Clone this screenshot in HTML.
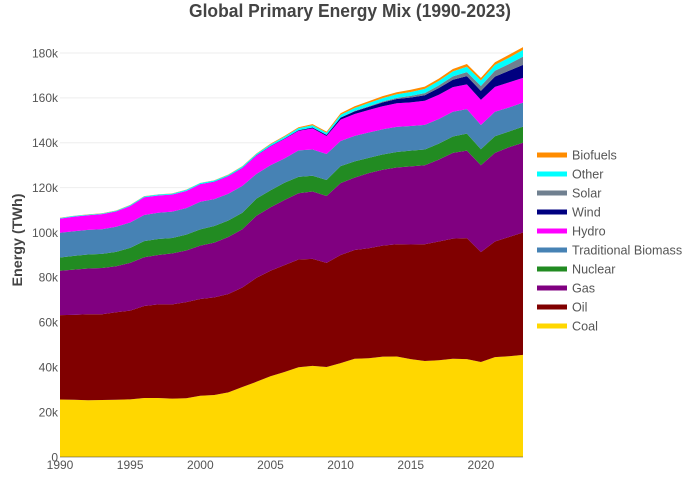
<!DOCTYPE html>
<html>
<head>
<meta charset="utf-8">
<style>
html,body{margin:0;padding:0;background:#fff;}
svg{display:block;font-family:"Liberation Sans",sans-serif;}
</style>
</head>
<body>
<svg id="chart" width="700" height="500" viewBox="0 0 700 500" xmlns="http://www.w3.org/2000/svg">
  <rect width="700" height="500" fill="#fff"/>
  <text x="350" y="17" text-anchor="middle" font-size="18" font-weight="bold" fill="#444" textLength="322" lengthAdjust="spacingAndGlyphs">Global Primary Energy Mix (1990-2023)</text>
  <text transform="translate(22,240) rotate(-90)" text-anchor="middle" font-size="14" font-weight="bold" fill="#444" textLength="93" lengthAdjust="spacingAndGlyphs">Energy (TWh)</text>
  <g id="grid"></g>
  <g id="areas"></g>
  <g id="yticks"></g>
  <g id="xticks"></g>
  <g id="legend"></g>
</svg>
<script>
const years = [1990,1991,1992,1993,1994,1995,1996,1997,1998,1999,2000,2001,2002,2003,2004,2005,2006,2007,2008,2009,2010,2011,2012,2013,2014,2015,2016,2017,2018,2019,2020,2021,2022,2023];
const coal = [25.6,25.5,25.3,25.4,25.5,25.7,26.3,26.3,26.0,26.2,27.3,27.6,28.8,31.2,33.5,36.0,37.9,40.0,40.6,40.1,41.8,43.8,44.0,44.7,44.8,43.6,42.8,43.1,43.8,43.6,42.3,44.5,44.9,45.5];
const oil = [37.6,37.8,38.3,38.2,39.0,39.5,41.0,41.7,42.0,42.8,43.1,43.5,43.8,44.3,46.3,47.0,47.6,48.0,47.7,46.4,48.2,48.4,49.0,49.5,50.0,51.1,52.0,52.9,53.5,53.9,49.0,51.5,53.1,54.5];
const gas = [19.8,20.2,20.4,20.6,20.5,21.3,21.7,22.0,22.7,23.0,23.8,24.4,25.4,26.0,27.7,28.2,29.0,29.5,30.0,29.8,32.0,32.3,33.5,33.8,34.2,34.8,35.2,36.5,38.2,39.0,38.7,39.5,40.0,40.0];
const nuclear = [5.9,6.1,6.2,6.3,6.4,6.7,7.2,7.1,6.9,7.1,7.2,7.4,7.4,7.3,7.6,7.6,7.7,7.3,7.0,7.1,7.6,7.2,6.8,6.8,6.9,7.0,7.0,7.1,7.3,7.6,7.1,7.4,7.0,7.2];
const biomass = [11.0,11.0,11.0,11.0,11.2,11.3,11.6,11.7,11.7,11.8,12.3,12.0,11.9,12.0,11.0,11.2,10.8,11.8,11.7,11.6,11.2,11.4,11.3,11.2,11.2,11.0,11.0,11.0,11.0,10.9,10.8,10.9,10.7,10.7];
const hydro = [6.3,6.5,6.5,6.7,6.8,7.3,7.9,7.7,7.6,7.6,7.8,7.7,7.8,7.9,8.2,8.4,8.7,8.7,9.4,8.0,9.5,9.7,10.0,10.3,10.5,10.5,10.7,10.8,11.0,11.0,11.2,11.1,11.2,11.0];
const wind = [0.01,0.01,0.01,0.01,0.02,0.02,0.02,0.03,0.03,0.04,0.06,0.07,0.09,0.11,0.14,0.18,0.23,0.3,0.4,0.5,0.9,1.2,1.4,1.7,1.9,2.2,2.5,3.0,3.3,3.7,4.0,4.6,5.2,5.8];
const solar = [0,0,0,0,0,0,0,0,0,0,0,0.01,0.01,0.01,0.01,0.01,0.02,0.02,0.03,0.05,0.08,0.2,0.3,0.4,0.5,0.7,0.9,1.2,1.5,1.8,2.2,2.6,3.0,3.7];
const other = [0.3,0.3,0.3,0.3,0.3,0.4,0.4,0.4,0.4,0.5,0.5,0.5,0.5,0.6,0.6,0.7,0.8,0.9,1.0,0.9,1.2,1.3,1.4,1.5,1.6,1.7,1.9,2.0,2.2,2.4,2.5,2.6,2.8,3.0];
const biofuels = [0.1,0.1,0.1,0.1,0.1,0.1,0.1,0.1,0.1,0.1,0.1,0.1,0.15,0.2,0.2,0.25,0.3,0.4,0.5,0.5,0.7,0.8,0.8,0.9,0.9,1.0,1.0,1.0,1.1,1.2,1.1,1.2,1.3,1.2];

const seriesNames = ["Coal","Oil","Gas","Nuclear","Traditional Biomass","Hydro","Wind","Solar","Other","Biofuels"];
const seriesColors = ["#FFD700","#800000","#800080","#228B22","#4682B4","#FF00FF","#000080","#708090","#00FFFF","#FF8C00"];
const seriesValues = [coal,oil,gas,nuclear,biomass,hydro,wind,solar,other,biofuels];
const yTickValues = [0,20,40,60,80,100,120,140,160,180];
const yTickLabels = ["0","20k","40k","60k","80k","100k","120k","140k","160k","180k"];
const xTickValues = [1990,1995,2000,2005,2010,2015,2020];

const NS = "http://www.w3.org/2000/svg";
const plot = {left:60,right:523,top:53,bottom:457};
const xScale = v => plot.left + (v - years[0]) / (years[years.length-1] - years[0]) * (plot.right - plot.left);
const yScale = v => plot.bottom - v / 180 * (plot.bottom - plot.top);
function make(tag, attrs, parent){
  const el = document.createElementNS(NS, tag);
  for (const k in attrs) el.setAttribute(k, attrs[k]);
  parent.appendChild(el);
  return el;
}
const slug = s => s.toLowerCase().replace(/\s+/g,'-');

const gridG = document.getElementById('grid');
yTickValues.forEach((v,i) => {
  if (v === 0) return;
  const ln = make('line',{x1:plot.left,x2:plot.right,y1:yScale(v),y2:yScale(v),stroke:'#eee','stroke-width':1},gridG);
  
  
});

const areasG = document.getElementById('areas');
let base = years.map(() => 0);
seriesValues.forEach((vals,s) => {
  const top = vals.map((v,i) => base[i] + v);
  const up = years.map((y,i) => xScale(y).toFixed(2) + ',' + yScale(top[i]).toFixed(2));
  const down = years.map((y,i) => xScale(y).toFixed(2) + ',' + yScale(base[i]).toFixed(2)).reverse();
  const poly = make('polygon',{points:up.concat(down).join(' '),fill:seriesColors[s]},areasG);
  
  
  base = top;
});

const zero = make('line',{x1:plot.left,x2:plot.right,y1:plot.bottom,y2:plot.bottom,stroke:'#444','stroke-opacity':0.55,'stroke-width':1},areasG);



const yG = document.getElementById('yticks');
yTickValues.forEach((v,i) => {
  const t = make('text',{x:58,y:yScale(v)+4.3,'text-anchor':'end','font-size':12,fill:'#555'},yG);
  t.textContent = yTickLabels[i];
  
  
});

const xG = document.getElementById('xticks');
xTickValues.forEach(v => {
  const t = make('text',{x:xScale(v),y:469,'text-anchor':'middle','font-size':12,fill:'#555'},xG);
  t.textContent = String(v);
  
  
});

const legG = document.getElementById('legend');
for (let s = seriesNames.length - 1, row = 0; s >= 0; s--, row++) {
  const ly = 155 + row * 19;
  const g = make('g',{},legG);
  
  
  make('rect',{x:537,y:ly-2.5,width:30,height:5,fill:seriesColors[s]},g);
  const t = make('text',{x:572,y:ly+4.3,'font-size':12.6,fill:'#555'},g);
  t.textContent = seriesNames[s];
}
</script>
</body>
</html>
